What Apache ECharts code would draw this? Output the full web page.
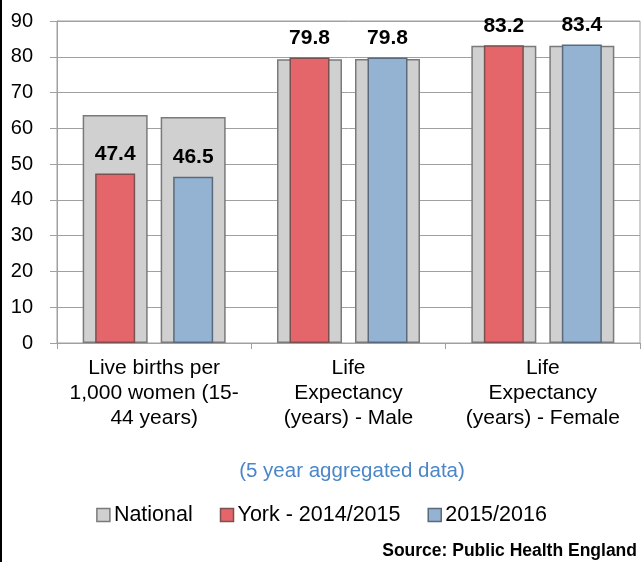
<!DOCTYPE html>
<html>
<head>
<meta charset="utf-8">
<script src="https://cdn.jsdelivr.net/npm/echarts@6/dist/echarts.min.js"></script>
<style>
  html, body { margin: 0; padding: 0; background: #fff; }
  #chart { width: 643px; height: 562px; }
</style>
</head>
<body>
<div id="chart"></div>
<script>
// categories and values
const categories = [
  'Live births per\n1,000 women (15-\n44 years)',
  'Life\nExpectancy\n(years) - Male',
  'Life\nExpectancy\n(years) - Female'
]
const nationalA = [63.7, 79.3, 83.1]
const nationalB = [63.2, 79.4, 83.1]
const york1415 = [47.4, 79.8, 83.2]
const york1516 = [46.5, 79.8, 83.4]

const font = "'Liberation Sans', Arial, sans-serif"
const gridColor = '#a0a0a0'

const chart = echarts.init(document.getElementById('chart'))

const barLabel = {
  show: true,
  position: 'top',
  distance: 9,
  color: '#000',
  fontWeight: 'bold',
  fontSize: 21,
  fontFamily: font,
  formatter: p => p.value.toFixed(1)
}

chart.setOption({
  animation: false,
  backgroundColor: '#fff',
  textStyle: { fontFamily: font },
  title: {
    text: '(5 year aggregated data)',
    left: 347,
    top: 456,
    textAlign: 'center',
    textStyle: { color: '#4a86c8', fontSize: 20.5, fontWeight: 'normal', fontFamily: font }
  },
  legend: {
    data: ['National', 'York - 2014/2015', '2015/2016'],
    left: 'center',
    top: 499,
    icon: 'rect',
    itemWidth: 13,
    itemHeight: 13,
    itemGap: 27,
    itemStyle: { borderWidth: 1.5 },
    textStyle: { color: '#000', fontSize: 21.5, fontFamily: font, padding: [0, 0, 0, -1] }
  },
  grid: {
    left: 57, right: 3, top: 21, bottom: 219,
    show: true,
    borderColor: gridColor,
    borderWidth: 1
  },
  xAxis: [{
    type: 'category',
    data: categories,
    axisLine: { lineStyle: { color: gridColor } },
    axisTick: { show: true, length: 6, lineStyle: { color: gridColor } },
    axisLabel: {
      color: '#000', fontSize: 21, lineHeight: 25, margin: 13,
      fontFamily: font, interval: 0
    }
  }, {
    type: 'category',
    data: categories,
    show: false
  }],
  yAxis: {
    type: 'value',
    min: 0,
    max: 90,
    interval: 10,
    axisLine: { show: true, lineStyle: { color: gridColor } },
    axisTick: { show: true, length: 7, lineStyle: { color: gridColor } },
    axisLabel: { color: '#000', fontSize: 20, margin: 24, fontFamily: font },
    splitLine: { lineStyle: { color: gridColor } }
  },
  series: [{
    name: 'National',
    type: 'bar',
    xAxisIndex: 0,
    data: nationalA,
    barWidth: 65,
    barGap: '20%',
    itemStyle: { color: '#d0d0d0', borderColor: '#7a7a7a', borderWidth: 1.5 }
  }, {
    name: 'National',
    type: 'bar',
    xAxisIndex: 0,
    data: nationalB,
    barWidth: 65,
    barGap: '20%',
    itemStyle: { color: '#d0d0d0', borderColor: '#7a7a7a', borderWidth: 1.5 }
  }, {
    name: 'York - 2014/2015',
    type: 'bar',
    xAxisIndex: 1,
    data: york1415,
    barWidth: 40,
    barGap: '95%',
    z: 3,
    label: barLabel,
    itemStyle: { color: '#e5666a', borderColor: '#7a5050', borderWidth: 1.5 }
  }, {
    name: '2015/2016',
    type: 'bar',
    xAxisIndex: 1,
    data: york1516,
    barWidth: 40,
    barGap: '95%',
    z: 3,
    label: barLabel,
    itemStyle: { color: '#94b3d3', borderColor: '#5a6a7a', borderWidth: 1.5 }
  }],
  graphic: [{
    type: 'rect',
    left: 0, top: 0,
    shape: { width: 2, height: 562 },
    style: { fill: '#000' }
  }, {
    type: 'text',
    right: 6,
    top: 542,
    style: {
      text: 'Source: Public Health England',
      fill: '#000',
      font: "bold 17.5px 'Liberation Sans', Arial, sans-serif"
    }
  }]
})
</script>
</body>
</html>
